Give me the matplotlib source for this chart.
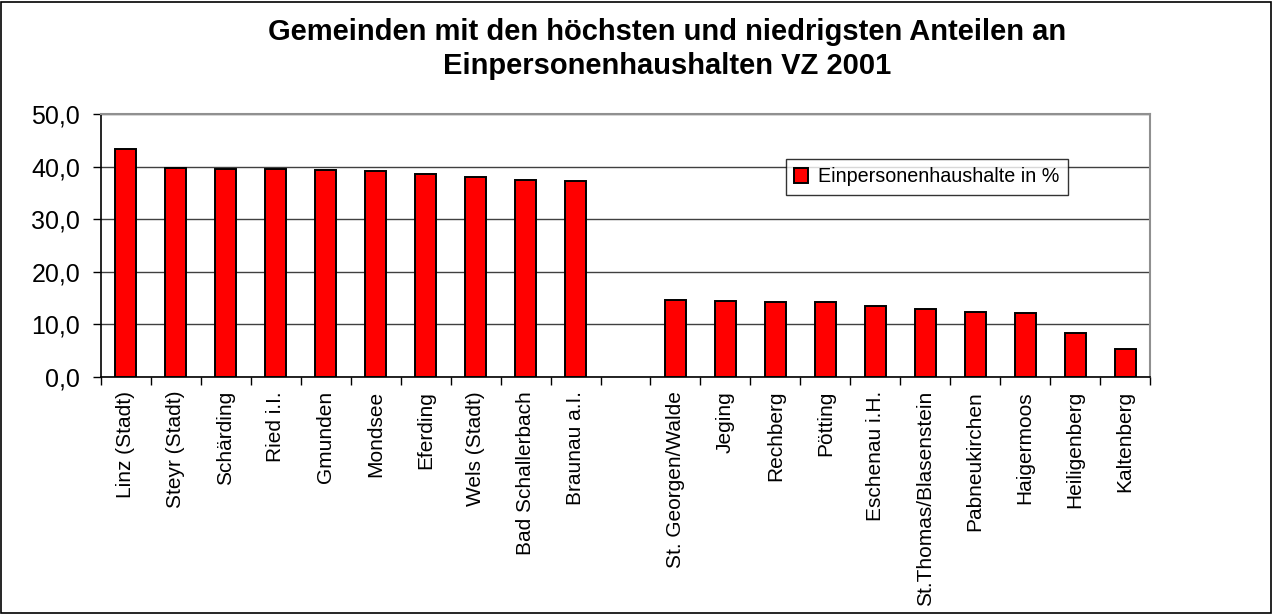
import matplotlib
matplotlib.use("Agg")
import matplotlib.pyplot as plt
import matplotlib.patches as mpatches
import numpy as np

plt.rcParams["font.family"] = ["Liberation Sans", "DejaVu Sans"]

# ---------------------------------------------------------------------------
# data
# ---------------------------------------------------------------------------
gemeinden = [
    "Linz (Stadt)", "Steyr (Stadt)", "Schärding", "Ried i.I.", "Gmunden",
    "Mondsee", "Eferding", "Wels (Stadt)", "Bad Schallerbach", "Braunau a.I.",
    "",
    "St. Georgen/Walde", "Jeging", "Rechberg", "Pötting", "Eschenau i.H.",
    "St.Thomas/Blasenstein", "Pabneukirchen", "Haigermoos", "Heiligenberg",
    "Kaltenberg",
]
anteil = [
    43.3, 39.7, 39.6, 39.5, 39.4, 39.2, 38.6, 38.1, 37.5, 37.3,
    np.nan,
    14.6, 14.5, 14.3, 14.2, 13.5, 12.9, 12.3, 12.1, 8.3, 5.3,
]
yticks = [0, 10, 20, 30, 40, 50]
title = "Gemeinden mit den höchsten und niedrigsten Anteilen an\nEinpersonenhaushalten VZ 2001"
series_label = "Einpersonenhaushalte in %"

# ---------------------------------------------------------------------------
# figure
# ---------------------------------------------------------------------------
W, H = 1273, 614
fig = plt.figure(figsize=(W / 100, H / 100), dpi=100)
ax = fig.add_axes([101 / W, 1 - 377 / H, (1150 - 101) / W, (377 - 114) / H])

x = np.arange(len(gemeinden))
ax.bar(x, anteil, width=0.42, color="#ff0000", edgecolor="black", linewidth=1.4,
       zorder=3)

ax.set_xlim(-0.5, len(gemeinden) - 0.5)
ax.set_ylim(0, 50)
ax.set_yticks(yticks)
ax.set_yticklabels([f"{v:.1f}".replace(".", ",") for v in yticks], fontsize=18)
ax.yaxis.grid(True, color="#404040", linewidth=1.0, zorder=0)

ax.set_xticks(x)
ax.set_xticklabels(gemeinden, rotation=90, fontsize=15)
ax.set_xticks(np.arange(-0.5, len(gemeinden)), minor=True)
ax.tick_params(axis="x", which="major", length=0, pad=10)
ax.tick_params(axis="x", which="minor", length=6, width=1, direction="out")
ax.tick_params(axis="y", length=6, width=1, direction="out", pad=9)

for side in ("top", "right"):
    ax.spines[side].set_color("#909090")
    ax.spines[side].set_linewidth(1.5)
for side in ("left", "bottom"):
    ax.spines[side].set_color("black")
    ax.spines[side].set_linewidth(1.2)

fig.text(667 / W, 1 - 49 / H, title, ha="center", va="center", fontsize=21,
         fontweight="bold", linespacing=1.3, multialignment="center")

handle = mpatches.Patch(facecolor="#ff0000", edgecolor="black", linewidth=1.4)
leg = ax.legend([handle], [series_label], loc="upper left",
                bbox_to_anchor=((786 - 101) / (1150 - 101), (377 - 159) / (377 - 114)),
                fontsize=14.2, frameon=True, fancybox=False, handlelength=0.7,
                handleheight=0.8, handletextpad=0.5, borderpad=0.42,
                borderaxespad=0)
leg.get_frame().set_edgecolor("black")
leg.get_frame().set_linewidth(1.0)

# outer border of the chart area
fig.patches.append(mpatches.Rectangle((1 / W, 1 / H), (W - 3) / W, (H - 3) / H,
                                      transform=fig.transFigure, fill=False,
                                      edgecolor="black", linewidth=1.2))

fig.savefig("out.png", dpi=100)
plt.close(fig)
